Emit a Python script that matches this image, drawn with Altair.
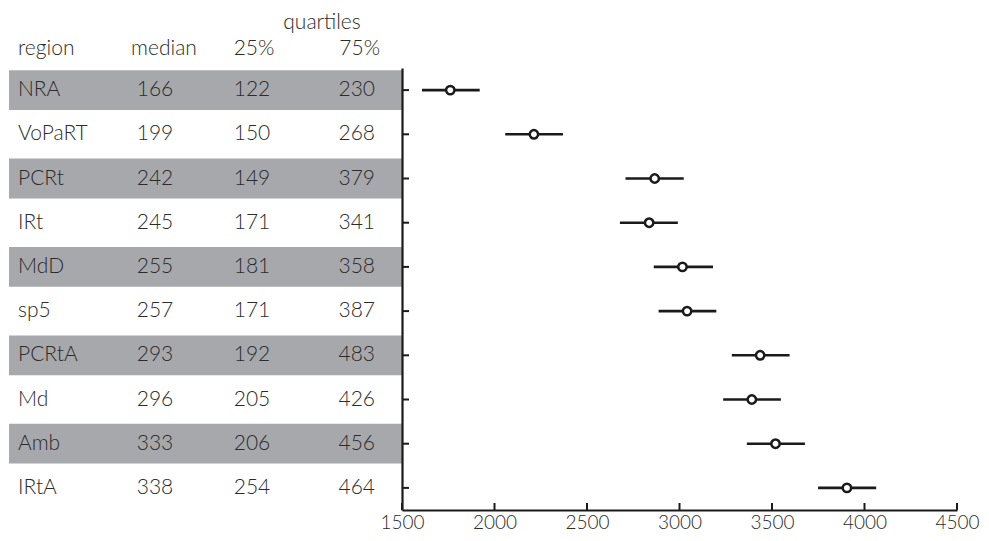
import altair as alt
import pandas as pd

regions = ["NRA", "VoPaRT", "PCRt", "IRt", "MdD", "sp5", "PCRtA", "Md", "Amb", "IRtA"]
medians = [166, 199, 242, 245, 255, 257, 293, 296, 333, 338]
q25 = [122, 150, 149, 171, 181, 171, 192, 205, 206, 254]
q75 = [230, 268, 379, 341, 358, 387, 483, 426, 456, 464]
centers = [1761, 2213, 2866, 2836, 3016, 3041, 3436, 3391, 3519, 3905]
lows = [1608, 2058, 2708, 2678, 2861, 2887, 3283, 3236, 3364, 3749]
highs = [1920, 2370, 3023, 2991, 3181, 3199, 3595, 3548, 3678, 4063]
x_ticks = [1500, 2000, 2500, 3000, 3500, 4000, 4500]

df = pd.DataFrame({
    "region": regions, "median": medians, "q25": q25, "q75": q75,
    "center": centers, "low": lows, "high": highs,
    "shade": [i % 2 == 0 for i in range(len(regions))],
})
ticks_df = pd.DataFrame({"t": x_ticks})

FONT = "Lato"
FS = 21
TXT = "#2b2b2b"
GREY = "#a7a8ab"
H = 442
LW = 394
RW = 555

yscale = alt.Scale(domain=regions, paddingInner=0.1, paddingOuter=0.05)
Y = alt.Y("region:N", sort=regions, scale=yscale, axis=None)

base_l = alt.Chart(df)
bands = base_l.transform_filter("datum.shade").mark_rect(color=GREY).encode(
    y=Y, x=alt.value(1), x2=alt.value(LW)
)

def col(field, x, align):
    return base_l.mark_text(font=FONT, fontSize=FS, color=TXT, align=align,
                            baseline="middle", fontWeight=300).encode(
        y=Y, x=alt.value(x), text=f"{field}:N")

texts = [col("region", 10, "left"), col("median", 147, "center"),
         col("q25", 244, "center"), col("q75", 367, "right")]

headers = ["quartiles", "region", "median", "25%", "75%"]
hpos = {"quartiles": (314, -39, "center"), "region": (10, -13, "left"),
        "median": (156, -13, "center"), "25%": (246, -13, "center"),
        "75%": (372, -13, "right")}
hlayers = []
for h in headers:
    hx, hy, ha = hpos[h]
    hlayers.append(alt.Chart(pd.DataFrame({"h": [h]})).mark_text(
        font=FONT, fontSize=FS, color=TXT, align=ha, baseline="alphabetic",
        fontWeight=300).encode(x=alt.value(hx), y=alt.value(hy), text="h:N"))

left = alt.layer(bands, *texts, *hlayers).properties(width=LW, height=H)

Yr = alt.Y("region:N", sort=regions, scale=yscale,
           axis=alt.Axis(labels=False, ticks=False, title=None, domainColor="#1a1a1a",
                         domainWidth=2.2, grid=False, minExtent=0, maxExtent=0,
                         offset=0))
xscale = alt.Scale(domain=[1500, 4500], nice=False, zero=False)
Xax = alt.Axis(values=x_ticks, ticks=False, title=None, grid=False, domainColor="#1a1a1a",
               domainWidth=2.2, labelFont=FONT, labelFontSize=19, labelColor=TXT,
               labelPadding=3, labelFontWeight=300, labelFlush=False, format="d",
               labelBaseline="top")

base_r = alt.Chart(df)
bars = base_r.mark_rule(color="#1a1a1a", strokeWidth=2.6).encode(
    x=alt.X("low:Q", scale=xscale, axis=Xax), x2="high:Q", y=Yr)
pts = base_r.mark_point(shape="circle", size=70, filled=False, color="#1a1a1a",
                        fill="white", fillOpacity=1, strokeWidth=2.5, opacity=1).encode(
    x="center:Q", y=Yr)
yticks = base_r.mark_rule(color="#1a1a1a", strokeWidth=2).encode(
    y=Yr, x=alt.value(0), x2=alt.value(7))
xticks = alt.Chart(ticks_df).mark_rule(color="#1a1a1a", strokeWidth=2).encode(
    x=alt.X("t:Q", scale=xscale), y=alt.value(H - 7), y2=alt.value(H))

right = alt.layer(bars, pts, yticks, xticks).properties(width=RW, height=H)

chart = alt.hconcat(left, right, spacing=0, bounds="flush").properties(
    padding={"left": 0, "top": 4, "right": 0, "bottom": 0}
).configure_view(stroke=None)

chart.save("out.html", embed_options={"renderer": "svg", "actions": False})
